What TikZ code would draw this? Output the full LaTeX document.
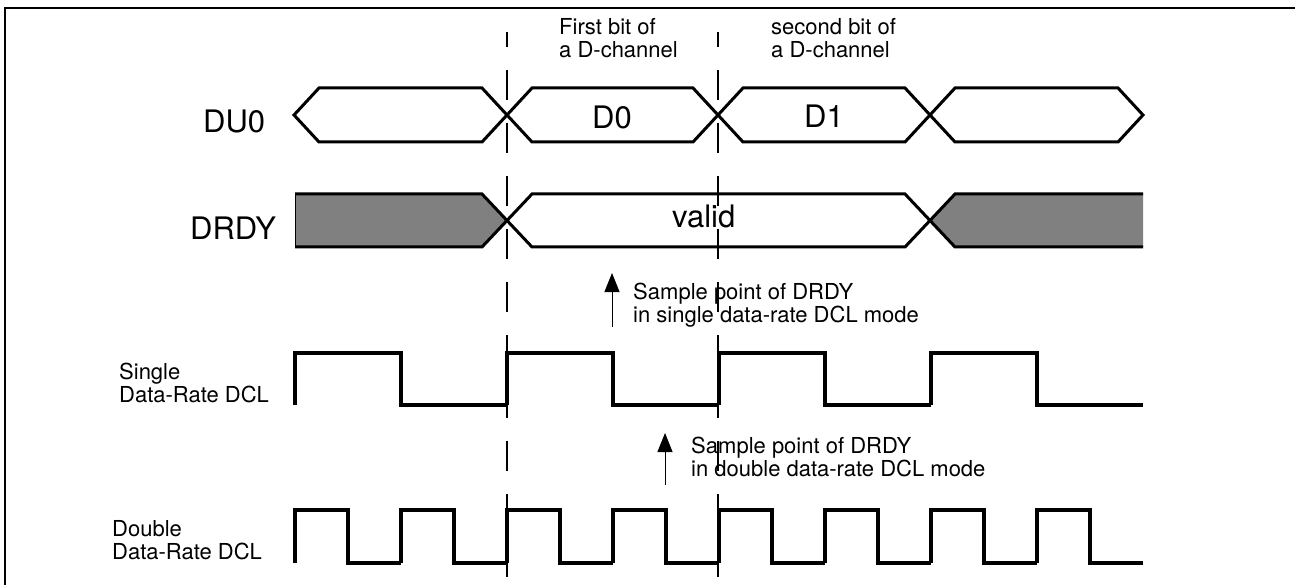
\documentclass[tikz,border=0pt]{standalone}
\usepackage{fontspec}
\setmainfont{TeX Gyre Heros}
\usetikzlibrary{arrows.meta}

\begin{document}
\begin{tikzpicture}[x=1pt, y=-1pt,
    bus_line/.style={line width=3pt, line join=miter},
    clk_line/.style={line width=3.2pt, line join=miter},
    guide_line/.style={line width=1.3pt, dash pattern=on 30pt off 23pt, dash phase=15pt},
    sample_arrow/.style={line width=1pt, -{Triangle[width=15pt,length=19pt]}},
    big_label/.style={font=\fontsize{31}{36}\selectfont, inner sep=0pt, anchor=base west},
    small_label/.style={font=\fontsize{22}{23}\selectfont, inner sep=0pt, anchor=base west, align=left}]
    \useasboundingbox (0,0) rectangle (1295,585);

    % frame
    \draw[line width=1.5pt] (1295,8) -- (5,8) -- (5,585);

    % DU0 bus
    \foreach \a/\b in {294/507, 507/718, 718/930, 930/1143}
        \draw[bus_line] (\a,115) -- (\a+25,88) -- (\b-25,88) -- (\b,115) -- (\b-25,142) -- (\a+25,142) -- cycle;

    % DRDY bus
    \fill[gray] (295,194) -- (482,194) -- (507,220.5) -- (482,247) -- (295,247) -- cycle;
    \fill[gray] (930,220.5) -- (955,194) -- (1143,194) -- (1143,247) -- (955,247) -- cycle;
    \draw[line width=1pt] (295,194) -- (295,247);
    \draw[bus_line] (295,194) -- (482,194) -- (507,220.5) -- (482,247) -- (295,247);
    \draw[bus_line] (507,220.5) -- (532,194) -- (905,194) -- (930,220.5) -- (905,247) -- (532,247) -- cycle;
    \draw[bus_line] (1143,194) -- (955,194) -- (930,220.5) -- (955,247) -- (1143,247);

    % single data-rate clock
    \foreach \i in {0,...,3}
        \draw[clk_line] (295+212*\i,405) -- ++(0,-52) -- ++(106,0) -- ++(0,52) -- ++(106,0);

    % double data-rate clock
    \foreach \i in {0,...,7}
        \draw[clk_line] (295+106*\i,563) -- ++(0,-53) -- ++(53,0) -- ++(0,53) -- ++(53,0);

    % bit boundaries
    \draw[guide_line] (507,32) -- (507,585);
    \draw[guide_line] (718,32) -- (718,585);

    % labels (base of a two-line label is its last line)
    \node[big_label] (du0) at (203,133) {DU0};
    \node[big_label] (drdy) at (190,240) {DRDY};
    \node[big_label] (d0) at (592,129) {D0};
    \node[big_label] (d1) at (804,128) {D1};
    \node[big_label] (valid) at (672,228) {valid};
    \node[small_label] (first) at (559,58) {First bit of\\a D-channel};
    \node[small_label] (second) at (771,58) {second bit of\\a D-channel};
    \node[small_label] (single) at (119,402) {Single\\Data-Rate DCL};
    \node[small_label] (double) at (112,559) {Double\\Data-Rate DCL};

    % sample points
    \coordinate (sp1_tail) at (612,327);
    \coordinate (sp1_tip) at (612,273);
    \coordinate (sp2_tail) at (665,485);
    \coordinate (sp2_tip) at (665,433);
    \draw[sample_arrow] (sp1_tail) -- (sp1_tip);
    \draw[sample_arrow] (sp2_tail) -- (sp2_tip);
    \node[small_label] (sp1_text) at (633,322) {Sample point of DRDY\\in single data-rate DCL mode};
    \node[small_label] (sp2_text) at (691,476) {Sample point of DRDY\\in double data-rate DCL mode};
\end{tikzpicture}
\end{document}
